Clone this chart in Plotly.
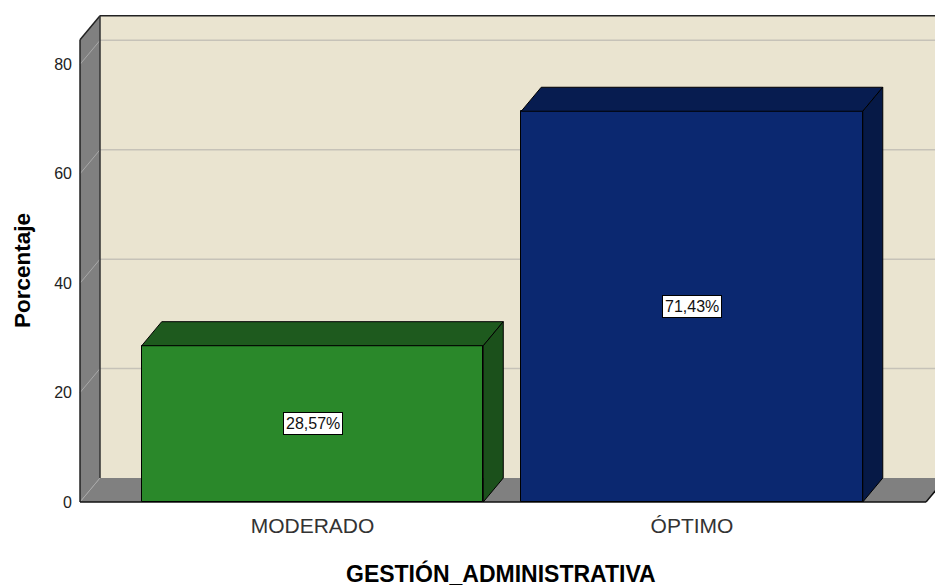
import plotly.graph_objects as go

# ---- data ----
categories = ["MODERADO", "ÓPTIMO"]
percentages = [28.57, 71.43]
pct_labels = ["28,57%", "71,43%"]
y_ticks = [0, 20, 40, 60, 80]
x_title = "GESTIÓN_ADMINISTRATIVA"
y_title = "Porcentaje"

# ---- styling / geometry (in axis units) ----
front_colors = ["#2A882A", "#0B2870"]
top_colors = ["#1E5A1E", "#071C50"]
side_colors = ["#1B501B", "#061946"]
wall_bg = "#EAE4D0"
wall_gray = "#808080"
bar_w = 0.9
dx = 0.0527        # depth offset in x units
dy = 4.39          # depth offset in y units
wall_h = 84.5      # height of the walls (front)
x_left = -0.6126   # front-left edge of the floor / left wall
x_right_front = 1.6166
x_far = 2.0

xpos = list(range(len(categories)))

fig = go.Figure()
fig.add_trace(go.Bar(
    x=xpos, y=percentages, width=bar_w,
    marker=dict(color=front_colors, line=dict(color="black", width=1)),
    hoverinfo="skip", showlegend=False,
))

shapes = []
def poly(pts, fill, line_color="black", lw=1, layer="below"):
    d = "M " + " L ".join(f"{x},{y}" for x, y in pts) + " Z"
    return dict(type="path", path=d, xref="x", yref="y", fillcolor=fill,
                line=dict(color=line_color, width=lw), layer=layer)

def seg(x0, y0, x1, y1, color, lw=1, layer="below"):
    return dict(type="line", x0=x0, y0=y0, x1=x1, y1=y1, xref="x", yref="y",
                line=dict(color=color, width=lw), layer=layer)

# back wall
shapes.append(poly([(x_left + dx, dy), (x_far, dy), (x_far, wall_h + dy),
                    (x_left + dx, wall_h + dy)], wall_bg, line_color="rgba(0,0,0,0)", lw=0))
# left wall
shapes.append(poly([(x_left, 0), (x_left, wall_h), (x_left + dx, wall_h + dy),
                    (x_left + dx, dy)], wall_gray, line_color="rgba(0,0,0,0)", lw=0))
# floor
shapes.append(poly([(x_left, 0), (x_left + dx, dy), (x_right_front + dx, dy),
                    (x_right_front, 0)], wall_gray, line_color="rgba(0,0,0,0)", lw=0))
# gridlines
for t in y_ticks[1:]:
    shapes.append(seg(x_left + dx, t + dy, x_far, t + dy, "#C6C2B8", 1.5))
    shapes.append(seg(x_left, t, x_left + dx, t + dy, "#A8A8A8", 1))
shapes.append(seg(x_left, 0, x_left + dx, dy, "#A8A8A8", 1))
# edges
shapes.append(seg(x_left, 0, x_left, wall_h, "#222222", 1.5))
shapes.append(seg(x_left, wall_h, x_left + dx, wall_h + dy, "#222222", 1.5))
shapes.append(seg(x_left + dx, wall_h + dy, x_far, wall_h + dy, "#222222", 1.5))
shapes.append(seg(x_left + dx, dy, x_left + dx, wall_h + dy, "#333333", 1.5))
shapes.append(seg(x_left, 0, x_right_front, 0, "#111111", 1.5))
shapes.append(seg(x_right_front, 0, x_right_front + dx, dy, "#111111", 1.5))

# 3D faces of bars
for i, v in enumerate(percentages):
    c = xpos[i]
    l, r = c - bar_w / 2, c + bar_w / 2
    shapes.append(poly([(l, v), (l + dx, v + dy), (r + dx, v + dy), (r, v)],
                       top_colors[i], layer="above"))
    shapes.append(poly([(r, 0), (r + dx, dy), (r + dx, v + dy), (r, v)],
                       side_colors[i], layer="above"))

annotations = []
for i, v in enumerate(percentages):
    annotations.append(dict(
        x=xpos[i], y=v / 2, xref="x", yref="y", text=pct_labels[i], showarrow=False,
        font=dict(family="Liberation Sans, Arial, sans-serif", size=16, color="#111111"),
        bgcolor="white", bordercolor="black", borderwidth=1, borderpad=2,
    ))
annotations.append(dict(
    x=22, y=271, text=f"<b>{y_title}</b>", showarrow=False,
    textangle=-90, font=dict(family="Liberation Sans, Arial, sans-serif", size=22.5, color="black"),
))
annotations.append(dict(
    x=501, y=573, text=f"<b>{x_title}</b>", showarrow=False,
    font=dict(family="Liberation Sans, Arial, sans-serif", size=23, color="black"),
))

# convert pixel-positioned annotations to paper coords
W, H = 935, 586
ml, mr, mt, mb = 78, 0, 14, 81
pw, ph = W - ml - mr, H - mt - mb
for a in annotations[-2:]:
    a["xref"] = "paper"; a["yref"] = "paper"
    a["x"] = (a["x"] - ml) / pw
    a["y"] = 1 - (a["y"] - mt) / ph
    a["xanchor"] = "center"; a["yanchor"] = "middle"

fig.update_layout(
    width=W, height=H,
    margin=dict(l=ml, r=mr, t=mt, b=mb, pad=0),
    paper_bgcolor="white", plot_bgcolor="white",
    shapes=shapes, annotations=annotations,
    font=dict(family="Liberation Sans, Arial, sans-serif"),
    xaxis=dict(range=[-0.6179, 1.6403], tickvals=xpos, ticktext=categories,
               showgrid=False, zeroline=False, showline=False, ticks="",
               tickfont=dict(size=21, color="#333333"), ticklabelstandoff=6),
    yaxis=dict(range=[-0.548, 89.21], tickvals=y_ticks,
               showgrid=False, zeroline=False, showline=False, ticks="",
               tickfont=dict(size=16, color="#222222"), ticklabelstandoff=5),
    bargap=0,
)

fig.write_html(
    "out.html",
    config={"displayModeBar": False},
    post_script="document.body.style.margin='0';document.body.style.overflow='hidden';",
)
